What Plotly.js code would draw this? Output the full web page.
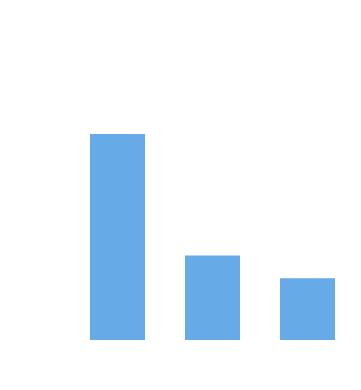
<!DOCTYPE html>
<html>
<head>
<meta charset="utf-8">
<script src="https://cdn.plot.ly/plotly-3.0.1.min.js"></script>
<style>html,body{margin:0;padding:0;background:#fff;}#chart{width:361px;height:390px;}</style>
</head>
<body>
<div id="chart"></div>
<script>
const categories = ["A", "B", "C"];
const values = [10, 4.1, 3.0];
const barColor = "#66AAE8";

Plotly.newPlot("chart", [{
  type: "bar",
  x: categories,
  y: values,
  marker: {color: barColor},
  hoverinfo: "none"
}], {
  width: 361,
  height: 390,
  margin: {l: 70, r: 6, t: 134, b: 50},
  paper_bgcolor: "#ffffff",
  plot_bgcolor: "#ffffff",
  bargap: 0.421,
  showlegend: false,
  xaxis: {showgrid: false, zeroline: false, showticklabels: false, showline: false, ticks: "", range: [-0.5, 2.5]},
  yaxis: {showgrid: false, zeroline: false, showticklabels: false, showline: false, ticks: "", range: [0, 10]}
}, {displayModeBar: false, staticPlot: true});
</script>
</body>
</html>
